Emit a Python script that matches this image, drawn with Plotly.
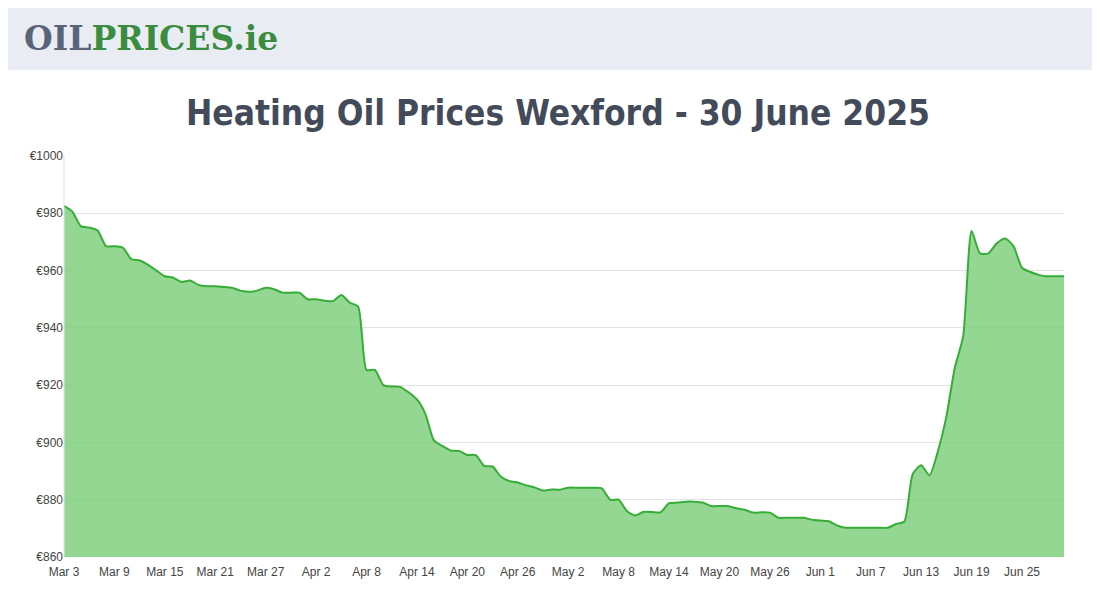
import pandas as pd
import plotly.graph_objects as go

fechas = pd.date_range("2025-03-03", "2025-06-30", freq="D")
precios = [
    982.6, 980.6, 975.5, 975.0, 974.0, 968.5, 968.5, 968.0, 964.0, 963.5,
    962.0, 960.0, 958.0, 957.5, 956.0, 956.5, 955.0, 954.5, 954.5, 954.3,
    954.0, 953.0, 952.6, 953.0, 954.0, 953.5, 952.3, 952.3, 952.3, 950.0,
    950.0, 949.5, 949.3, 951.5, 948.8, 947.4, 925.3, 925.3, 920.0, 919.5,
    919.4, 917.5, 915.0, 910.0, 900.8, 898.8, 897.2, 897.0, 895.6, 895.6,
    891.8, 891.6, 888.0, 886.5, 886.0, 885.0, 884.3, 883.2, 883.6, 883.5,
    884.2, 884.2, 884.2, 884.2, 884.0, 880.0, 880.0, 876.0, 874.5, 875.8,
    875.7, 875.6, 878.8, 879.0, 879.3, 879.3, 879.0, 877.8, 877.8, 877.8,
    877.0, 876.5, 875.5, 875.6, 875.5, 873.7, 873.7, 873.7, 873.7, 873.0,
    872.7, 872.5, 871.0, 870.2, 870.2, 870.2, 870.2, 870.2, 870.2, 871.5,
    872.4, 889.0, 892.0, 888.5, 897.0, 909.0, 926.0, 937.0, 973.8, 966.0,
    966.0, 969.5, 971.2, 968.5, 961.0, 959.5, 958.5, 958.0, 958.0, 958.0,
]
ticks_x = pd.date_range("2025-03-03", "2025-06-30", freq="6D")
ticks_y = list(range(860, 1001, 20))

fig = go.Figure()
fig.add_trace(go.Scatter(
    x=fechas, y=precios,
    mode='lines', fill='tozeroy',
    line=dict(color='#36ad36', width=2, shape='spline', smoothing=0.6),
    fillcolor='rgba(120, 205, 120, 0.8)',
    hoverinfo='x+y', showlegend=False
))

# cabecera con logo
fig.add_shape(type='rect', xref='paper', yref='paper',
              x0=-0.056, x1=1.044, y0=1.2145, y1=1.37,
              fillcolor='#e9ecf3', line_width=0, layer='below')
fig.add_annotation(xref='paper', yref='paper', x=-0.042, y=1.294, xanchor='left', yanchor='middle',
                   text="<b><span style='color:#5a6478'>OIL</span><span style='color:#3a8c3e'>PRICES.ie</span></b>",
                   showarrow=False, font=dict(family='DejaVu Serif', size=33))

fig.update_layout(
    width=1100, height=600,
    title=dict(text='<b>Heating Oil Prices Wexford - 30 June 2025</b>', x=0.5, xanchor='center',
               y=0.825, yanchor='middle',
               font=dict(family='DejaVu Sans Condensed, Liberation Sans Narrow, Roboto, sans-serif',
                         size=35, color='#434a59')),
    margin=dict(l=56, r=44, t=148, b=51),
    plot_bgcolor='white', paper_bgcolor='white',
    xaxis=dict(range=[fechas[0], fechas[-1]], tickvals=ticks_x,
               ticktext=[d.strftime('%b ') + str(d.day) for d in ticks_x],
               showgrid=False, zeroline=False, showline=False, ticks='', ticklabelstandoff=6,
               tickfont=dict(family='Arial, Liberation Sans', size=12, color='#444')),
    yaxis=dict(range=[860, 1000], tickvals=ticks_y, ticktext=[f'€{v}' for v in ticks_y],
               showgrid=True, gridcolor='#e3e3e3', zeroline=False, ticks='',
               tickfont=dict(family='Arial, Liberation Sans', size=12, color='#444')),
)
fig.add_shape(type='line', xref='paper', yref='paper', x0=0, x1=0, y0=0, y1=1,
              line=dict(color='#e3e3e3', width=1))

fig.write_html("out.html")
